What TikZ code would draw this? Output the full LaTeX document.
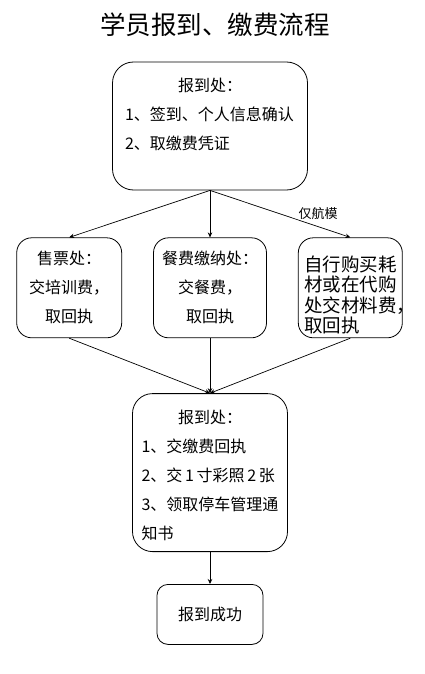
\documentclass[tikz,border=0pt]{standalone}
\usepackage{fontspec}
\newfontfamily\cjk{Noto Sans CJK SC}
\usetikzlibrary{positioning,arrows.meta}
\tikzset{
  fig/.style={font=\cjk\fontsize{16}{29}\selectfont},
  box/.style={draw,line width=0.8pt,rounded corners=15pt,align=center,inner sep=2pt},
  ln/.style={-{Stealth[length=5pt,width=4.5pt]},line width=0.7pt},
  lbl/.style={font=\cjk\fontsize{13}{15}\selectfont,inner sep=1pt},
}

\begin{document}
\begin{tikzpicture}[fig,x=1pt,y=-1pt,
  row/.style={box,minimum height=100pt}]
\useasboundingbox (0,0) rectangle (424,674);

\node[font=\cjk\fontsize{25.5}{30}\selectfont] (title) at (215,25) {学员报到、缴费流程};

\node[box,rounded corners=21pt,minimum width=195pt,minimum height=128pt,
      text width=170pt,align=left] (reg) at (210,126)
  {{\centering 报到处：\par}1、签到、个人信息确认\\2、取缴费凭证\rule[-24pt]{0pt}{24pt}};

% three counters
\node[row,minimum width=113pt,below=47pt of reg] (ml) {餐费缴纳处：\\交餐费，\\取回执};
\node[row,minimum width=105pt,left=31pt of ml] (tk) {售票处：\\交培训费，\\取回执};
\node[row,minimum width=104pt,right=31pt of ml,text width=92pt,align=left,
      font=\cjk\fontsize{18.5}{20.5}\selectfont] (mat)
  {\rule{0pt}{30pt}自行购买耗\\材或在代购\\处交材料费，\\取回执};

\draw[ln] (reg.south) -- (tk.north);
\draw[ln] (reg.south) -- (ml.north);
\draw[ln] (reg.south) -- node[lbl,pos=0.77,above=6pt]{仅航模} (mat.north);

\node[box,rounded corners=20pt,minimum width=155pt,minimum height=158pt,
      text width=137pt,align=left,below=55pt of ml] (reg2)
  {{\centering\rule{0pt}{20pt}报到处：\par}1、交缴费回执\\\mbox{2、交\,1\,寸彩照\,2\,张}\\3、领取停车管理通\\知书};

\draw[ln] (tk.south) -- (reg2.north);
\draw[ln] (ml.south) -- (reg2.north);
\draw[ln] (mat.south) -- (reg2.north);

\node[box,rounded corners=11pt,minimum width=106pt,minimum height=60pt,
      below=32pt of reg2] (ok) {报到成功};
\draw[ln] (reg2.south) -- (ok.north);

\end{tikzpicture}
\end{document}
